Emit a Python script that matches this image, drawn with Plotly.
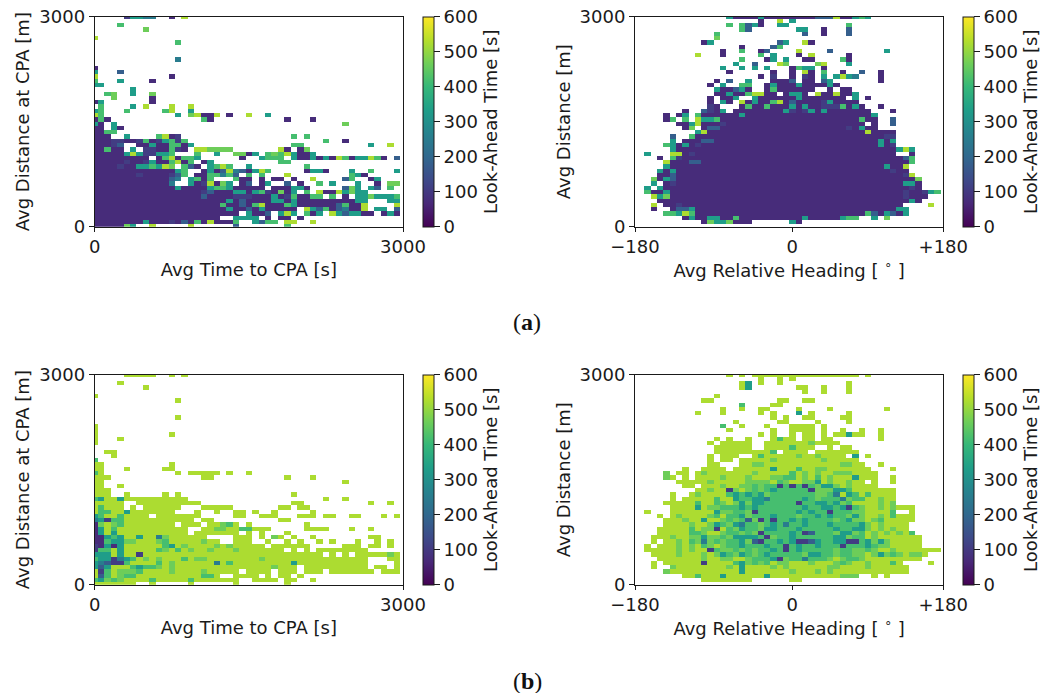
import numpy as np
import plotly.graph_objects as go

# Look-ahead time levels (seconds)
LEVELS = {'d': 75, 'p': 110, 'b': 180, 'c': 250, 't': 330, 'g': 420, 'l': 465, 'y': 525}

X_LABEL_TIME = "Avg Time to CPA [s]"
X_LABEL_HEAD = "Avg Relative Heading [ <sup>∘</sup> ]"
Y_LABEL_CPA = "Avg Distance at CPA [m]"
Y_LABEL_DIST = "Avg Distance [m]"
CBAR_LABEL = "Look-Ahead Time [s]"
TIME_TICKS = ["0", "3000"]
HEAD_TICKS = ["−180", "0", "+180"]
DIST_TICKS = ["0", "3000"]
CBAR_TICKS = [0, 100, 200, 300, 400, 500, 600]

# Each string is one row of bins, from the top row down
A_TIME = [
 ".....pttcc ..d.y", "", "....g", "........l", "", "y", ".......... ...g", "", "", "", ".......... ...c", "",
 "d", "t...b", "y......... ..d", "g...t....d", "tt", "......t", "..gl..t..l", "...l.....d", "dt.......d",
 ".g....t.y. ..y..y", "tg...g.... .gy..t",
 "yg........ ...t.lyddy .d..y..t",
 "dgd....... .......gd. .......... d...d",
 "td.t...... .......... .......... .........l",
 "dd.td", "ddgg",
 "ddd..t.... gydp...... .......... .g.g",
 "dddppddpgd ptgpg..... .......... ......g..d",
 "dddpb..ddt ddggdt.... .......... .gg....... ...t..y",
 "ddgdd.t.pp ddgpd.yyll ll.......y d.dl",
 "dddddtytpp ttg...g..t ..lldt.glg ytddt",
 "ddddddddd. dgydggt... ...d..tggg .tddtdtdyg dttygd.b",
 "dddddpddpt ddgydg.dt. .........g g",
 "ddddpddttg tyl.gbd.tg yg..t..... ...g",
 "dddddddddd dddtg..dtd bycbdtyg.. ...dttd... t..g...t",
 "dddddddpdd ddpbg.ddgg cgb.g.g... y......... gtd",
 "dddddddddd ddbc.tgdg. ..gdd.d.dd .d..y....b g..dt",
 "dddddddddd ddc..tdpyd lt.db.dt.. b.d..g.t.. .t..d.ll",
 "dddddddddd dddtddddtg gtddddd.dd dttd.....b lt.tb.g",
 "dddddddddd dddddddpbd ddttdtgpdl dt.g.yddyt ltt",
 "dddddddddd dddddddbdd ddpppdddtd pgddgg.g.d .ttltttg",
 "dddddddddd dddddddddd dtdbddddtt dtdddddddd dtt...tt",
 "dddddddddd dddddddddd gddbdgyddd gtddddddbg ddy....y",
 "dddddddddd dddddddddd dtddbdtddd dd.ytbgdbc ddy.tt.b",
 "dddddddddd dddddddddd ddd.tddb.t yt.gdt.ytb ttdd.dtd",
 "dddddddddd dddddddddd ..tttt.d.d d.d",
 "ddddddddtd ddpdbdgdyd ddg..tbgg. yy..y",
 "dddddlt..y .....y.... ..b....... g",
]

A_HEAD = [
 ".......... .....tdddd tddddddddb bbyddtgt",
 ".......... .......... d..y.t",
 ".......... .....g.gbt d..tt..... ....g",
 ".......... .......gb. ......tt.. d...b",
 ".......... ...g...... .......b.. d...b",
 ".......... ...l",
 ".......... .dt....... ...bt..yd",
 ".......... .......d.. ..bg",
 ".......... ....d..g.. db....y... .b........ t",
 ".......... y...d..... g.t...d.y. ....d",
 ".......... .......g.. .dt.t..dd. ...gd",
 ".......... ......t..b ...yl....l y...t",
 ".......... ....t..t.t .t...dgtt. d",
 ".......... .....d.... ..d..d.yd. g..d..b..d",
 ".......... .......... d.p..d.pd. t.tytc...d",
 ".......... ...d.b..t. ..dddb.dd. bt.......d",
 ".......... ..d.t..gg. .dtdddtddd dtd",
 ".......... ...tddbtd. .dgdddddd. .d.dd",
 ".......... ...ddtddgy ydd.dttd.y ddyddt",
 ".......... ..d.ddt..t ddddddtddd dddd.t.d",
 ".......... ..d.td.ydt ddgydbdddd ptdddd",
 ".......... ..pd...dgd dgdddtdtdd pppgdtd..d",
 "........d. .bpdt.dddd ddddtpdptd tddddddd.. .d",
 ".....d.dt. gddddddtdd dddddddddd ddddddddt.",
 ".....dg.g. yttgdddddd dddddddddd ddddddgdd. .b",
 ".......ddt ydddpddddd dddddddddd ddddddd.d. .b",
 "........dl .dbbdddddd dddddddddd ddddpdtdd.",
 ".......... tydddddddd dddddddddd dddddddydd dd",
 "......b..g dddddddddd dddddddddd dddddddddd pp",
 "......t.dd dbbddddddd dddddddddd dddddddddt dt",
 ".....gtdtd pddddddddd dddddddddd dddddddddt dp",
 "......tddd dddddddddd dddddddddd dddddddddd ddtyt",
 "..t...yydp dddddddddd dddddddddd dddddddddd dd..d",
 "....d.gpdd dddddddddd dddddddddd dddddddddd dddbg",
 ".....ydddb bddddddddd dddddddddd dddddddddd ddddg",
 ".....tdddd dddddddddd dddddddddd dddddddddd tddy",
 "....tdtddd dddddddddd dddddddddd dddddddddd dpdd",
 "....ddbddd dddddddddd dddddddddd dddddddddd dddpy",
 "...ldtbddd dddddddddd dddddddddd dddddddddd dddddl",
 "...t.dpddd dddddddddd dddddddddd dddddddddd dddttd",
 "..t.tddddd dddddddddd dddddddddd dddddddddd ddddpd",
 "..gddtdddd dddddddddd dddddddddd dddddddddd dddpddptg",
 "...ytldddd dddddddddd dddddddddd dddddddddd dddpddd",
 "....dddddd dddddddddd dddddddddd dddddddddd ddddtd",
 "...y.ddpdd dddddddddd dddddddddd dddddddddd ddd....y",
 "...d..dbbt dddddddddd dddddddddd dddddddddd ddtt",
 ".....ggtyg dddddddddd dddddddddd dddddddgbd tbdt",
 "........dt ddttddgddd dddddddtdd dddtgg..t. l",
 ".......... .dlttlddd. .....td",
 "",
]

B_TIME = [
 ".....yyyyy ..y.y", "", "....y", "........y", "", "y", ".......... ...y", "", "", "", ".......... ...y", "",
 "y", "y", "y......... ..y", "y...y", "y", "", "..yy", "...y", "g",
 "yy........ ..y", "yy...y.... .yy",
 "gy........ ...y.yyyyy .y..y",
 "yyy....... .......yy. .......... y...y",
 "yy........ .......... .......... .........y",
 "yy..y", "yyy",
 "yyy..y.... .y.y...... .......... .y",
 "gtyytyyyyy yyyyy..... .......... ......y..y",
 "yyyyy..yyy yyyyyyy... .......... .yy....... ...y..y",
 "ygyyy.y.yy yyyy...yyy yy.......y y.yy",
 "yggyytyyyy yyy...y..y ..yy.y..y. ....y",
 "tgyygyyyy. yyyyyyy... ..yy..yyy. ..yyy.yy.. yy...y.y",
 "ctpggyyyyy yyyyyy.yy. .........y y",
 "dlylgyyyyy yyy.yyy.yy lgy.y..... ...y",
 "dtygyyyyyy yyyyy..yyl lyyggyyy.. ...yyyy... y..y",
 "dtytyyyyyy yyyyy.yyyy yyy.y.y... y",
 "ddtgtyytyy clyyyyyy.. ..yyy.y.ly .y..y..... ...yy",
 "ddgttllyyy lgyyyyylyy ..yyy..y.. y.y..y.y.. .y..y.y",
 "pdtdtyyyyy ygtylyyyyl ylyyyyy.yy yyyy.....y yy.yy.y",
 "pggytyyyyy glygylyyly yylyyyyyyy .y.y.yyyyy yyy",
 "tttytyypyy yyyyyyyyyy yyyyyyyyyy yyyyyy.y.y .yyyyyly",
 "gttpctgyly lyyygyllyy yyyyyylyyy yyyyyyyyyy yyy...yy",
 "tcbppgyyyy gylyyyyyyc ygyyyyyyyy ytyyyyyyyy yyy....y",
 "tbtyyygtgg lylyyyyyyy yyyyyyyyly yy.yyyyyyy yyy.yy.y",
 "ypgylllgyy yylyyyylyy yyy.yyyy.y yy.yyy.yyy yyyy.yyy",
 "ybgylggyyy yyyyyyyggy ..yyyy.y.y y.y",
 "gtlglyyyyg yyyyygyyyy yyy..yyyy. yy..y",
 "yyyyyyy..y .....y.... ..y....... y",
]

B_HEAD = [
 ".......... .....y.y.y yyyyyyyyyy yyyyyy.y",
 ".......... .......... y..y.y",
 ".......... .......yt. y..y...... ....y",
 ".......... .......yt. ......yy.. y...y",
 ".......... .......... .......y.. y...y",
 ".......... ...y",
 ".......... .yy....... ...yy..yy",
 ".......... .......g.. ..yy",
 ".......... ....y..y.. yy....y... .y........ y",
 ".......... y...y..... y.y...t.y. ....y",
 ".......... .......... ..y.y..yy. ...yy",
 ".......... ......y... ...yy....y ....y",
 ".......... ....g..y.. .y...yyyy. y",
 ".......... .....y.... ..y..yyyy. y..y..y..y",
 ".......... .......... y.y..y.yy. y.yytyy..y",
 ".......... ...y.y..y. ..ygyy.yy. yy.......y",
 ".......... ..y.yyyyy. .yyyyyyyly yyy",
 ".......... ...yyyyyy. .yyyygyyy. .y.yy",
 ".......... ...yyyyyyy yyg.yyyy.y yyyyyy",
 ".......... ..y.yyy..y gyyyyylyyl yyyy.t.y",
 ".......... ..y.yy.yyy yylyyyyyyy lyyyyy",
 ".......... ..yy...yyl lyyyyyyyyy yyyllyy..y",
 "........y. .yyyy.yyyy yytyyygyyl lyyyyyyy.. .y",
 ".....l.yy. ylyyyyyyyl yyyyygylyl yylllyyyy.",
 ".....ly.y. yyyylyyyly yyllggylyg ylyyytyyy. .y",
 ".......yyy yylyyyyyll llyglyyllt ylyylyy.y. .y",
 "........yy .yyylyyllg lggpgpgpgl ttlylyyyy.",
 ".......... yylyyplylg lgtgggggpl llttgyyyyy yy",
 "......y..y lyyyygtgtg tlgggggggl lgcytgygyy yy",
 "......y.yy yyygyytggt tcgggggtgl gggclggyyl yy",
 ".....yyyyy gyyglyltlt tgggggpggt tgtlgyyyyl yl",
 "......yyyy tyllgggtgt gggggggtgg ttgtpglyyl ylyyy",
 "..y...yyyy yyytllgglp ggggggtgtg gpgggllyyy yg..y",
 "....y.ylyy yylgyggtlg ggtggglggt gtggltlyyl ygyyy",
 ".....yyyly ytyylglgbl pgpggtgtgg gglgtllylg yyyyy",
 ".....yyyyl yyltgltcgg lgtgcggtgg gtggggtlyl yyyy",
 "....yyyyyg yllpygltgg lttgggtggg ggtggttlyl ylyy",
 "....yyyyyg glyylgglgl pggggtgpbg gglttlgyly lylyg",
 "...yyylyyl ltllgltttt gplggtgggg ggttlggyly yyyyyy",
 "...y.yylyg lclglggtlb pggtgtppbt ggttppgtlt lyyyyy",
 "..y.yyylyl yglylggtgg gtggpgtggt gggpgggtgl lyyyyy",
 "..yyyyylyl yypgllglgl ggtgpgtggg gglggllgly ylyyyyyyy",
 "...yyyylyy ylyltgltgl gtgggggltt gglggllylt lglylly",
 "....yyyyyy ylyyllyylg ggtplggcgg glylgglyyy yyyyyy",
 "...y.yyyyy ypyyyygtlg lgyllyyyly yylglyylyy ygy....y",
 "...y..lyyy yyyyylytyy yylylyyyyy yllyyyylyy yyyy",
 ".....lyyyy yyyyyyytyy yyyyylyyyl ylyyyyyyyy yyyy",
 "........yy gyyytyyyyy ytyyyyyyyy yyylll..y. y",
 ".......... .yyyyyyyy. .....yy",
 "",
]


def to_grid(rows, ncols):
    grid = []
    for row in reversed(rows):
        cells = row.replace(" ", "").ljust(ncols, ".")[:ncols]
        grid.append([LEVELS.get(c) for c in cells])
    return grid


NROWS = 50
TIME_BINS = 49
HEAD_BINS = 50
W, H = 1054, 693

fig = go.Figure()
font = "DejaVu Sans"
FS = 18
DARK = "#1a1a1a"

panels = [
    (A_TIME, TIME_BINS, 94.7, 16.7, X_LABEL_TIME, Y_LABEL_CPA, [0, 48], TIME_TICKS, 423, 7),
    (A_HEAD, HEAD_BINS, 635.0, 16.7, X_LABEL_HEAD, Y_LABEL_DIST, [0, 25, 49], HEAD_TICKS, 963, 2),
    (B_TIME, TIME_BINS, 94.7, 374.7, X_LABEL_TIME, Y_LABEL_CPA, [0, 48], TIME_TICKS, 423, 7),
    (B_HEAD, HEAD_BINS, 635.0, 374.7, X_LABEL_HEAD, Y_LABEL_DIST, [0, 25, 49], HEAD_TICKS, 963, 2),
]
PW, PH = 308.3, 210

for i, (rows, ncols, left, top, xlab, ylab, xticks, xtext, cbx, xstand) in enumerate(panels, start=1):
    xa, ya = f"xaxis{i}", f"yaxis{i}"
    fig.add_trace(go.Heatmap(
        z=to_grid(rows, ncols), x=list(range(ncols)), y=list(range(NROWS)),
        xaxis=f"x{i}", yaxis=f"y{i}", colorscale="Viridis", zmin=0, zmax=600,
        hoverongaps=False, xgap=0, ygap=0,
        colorbar=dict(
            x=cbx / W, xanchor="left", xpad=0, y=1 - top / H, yanchor="top", ypad=0,
            len=PH / H, lenmode="fraction", thickness=10.5, thicknessmode="pixels",
            outlinewidth=1, outlinecolor=DARK,
            tickmode="array", tickvals=CBAR_TICKS, ticks="outside", ticklen=6, tickwidth=1, tickcolor=DARK,
            tickfont=dict(family=font, size=FS, color=DARK),
            title=dict(text=CBAR_LABEL, side="right", font=dict(family=font, size=FS, color=DARK)),
        ),
    ))
    common = dict(showgrid=False, zeroline=False, showline=True, mirror=True, linecolor=DARK, linewidth=1,
                  ticks="outside", tickwidth=1, tickcolor=DARK,
                  tickfont=dict(family=font, size=FS, color=DARK), automargin=False)
    fig.update_layout({
        xa: dict(common, domain=[left / W, (left + PW) / W], range=[0, ncols - 1], anchor=f"y{i}", ticklen=4,
                 tickmode="array", tickvals=xticks, ticktext=xtext,
                 title=dict(text=xlab, standoff=xstand, font=dict(family=font, size=FS, color=DARK))),
        ya: dict(common, domain=[1 - (top + PH) / H, 1 - top / H], range=[0, NROWS - 1], anchor=f"x{i}", ticklen=5,
                 tickmode="array", tickvals=[0, NROWS - 1], ticktext=DIST_TICKS,
                 title=dict(text=ylab, standoff=4, font=dict(family=font, size=FS, color=DARK))),
    })

for label, ypx in (("(<b>a</b>)", 322), ("(<b>b</b>)", 681)):
    fig.add_annotation(text=label, x=527 / W, y=1 - ypx / H, xref="paper", yref="paper",
                       showarrow=False, xanchor="center", yanchor="middle",
                       font=dict(family="Liberation Serif", size=24, color="#111111"))

fig.update_layout(width=W, height=H, margin=dict(l=0, r=0, t=0, b=0),
                  paper_bgcolor="white", plot_bgcolor="white", showlegend=False)
fig.write_html("out.html", config={"displayModeBar": False},
               post_script="document.body.style.margin='0';document.body.style.overflow='hidden';")
